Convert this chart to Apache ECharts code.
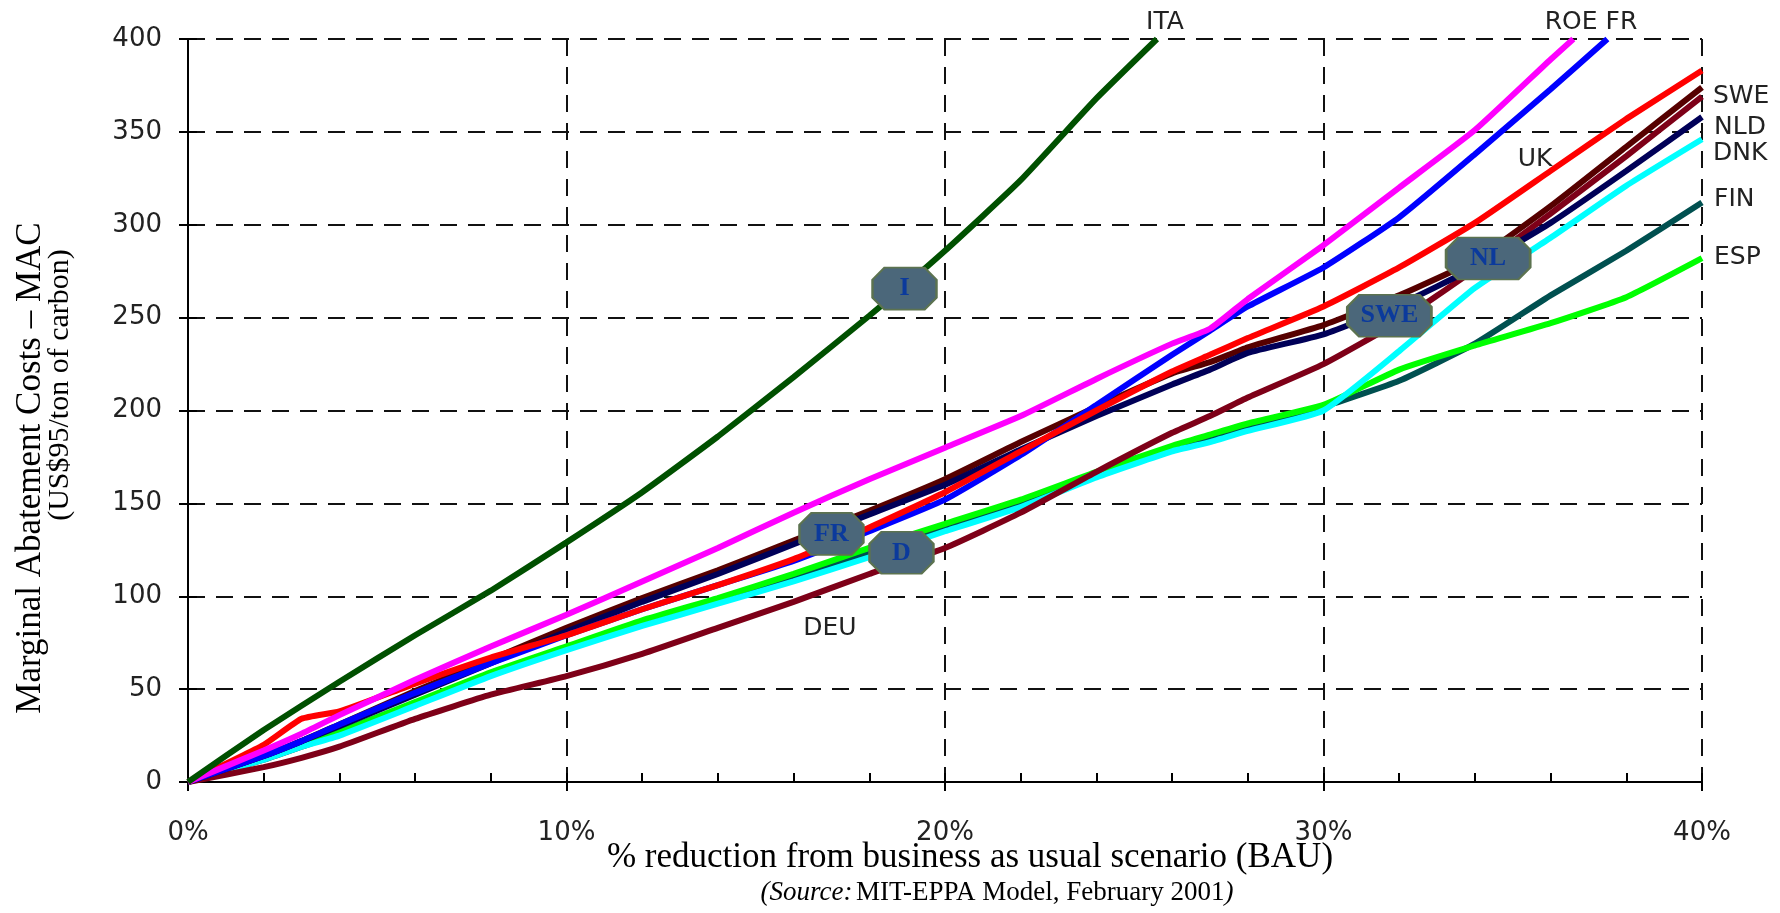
<!DOCTYPE html>
<html>
<head>
<meta charset="utf-8">
<script src="https://cdn.jsdelivr.net/npm/echarts@6/dist/echarts.min.js"></script>
<style>
  html, body { margin: 0; padding: 0; background: #fff; }
  #chart { width: 1780px; height: 913px; }
</style>
</head>
<body>
<div id="chart"></div>
<script>
// % reduction from BAU (x) shared by most regions
const pct = [0, 2, 3, 4, 6, 8, 10, 12, 14, 16, 18, 20, 22, 24, 26, 27, 28, 30, 32, 34, 36, 38, 40];

// regions that leave the top of the chart get their own x values
const itaPct = [0, 2, 4, 6, 8, 10, 12, 14, 16, 18, 20, 22, 24, 25.6];
const itaMac = [0, 28, 54, 79, 103, 129, 156, 186, 218, 251, 286, 324, 368, 400];

const roePct = [0, 2, 3, 4, 6, 8, 10, 12, 14, 16, 18, 20, 22, 24, 26, 27, 28, 30, 32, 34, 36, 36.6];
const roeMac = [0, 17, 26, 36, 55, 73, 90, 108, 126, 145, 163, 180, 197, 217, 236, 244, 260, 289, 320, 351, 389, 400];

const frPct = [0, 2, 3, 4, 6, 8, 10, 12, 14, 16, 18, 20, 22, 24, 26, 27, 28, 30, 32, 34, 36, 37.5];
const frMac = [0, 14, 22, 31, 48, 64, 79, 93, 106, 119, 135, 152, 176, 203, 230, 243, 256, 277, 304, 338, 373, 400];

const ukMac  = [0, 20, 34, 38, 53, 67, 79, 93, 106, 120, 137, 156, 178, 200, 221, 230, 239, 256, 277, 301, 329, 357, 383];
const sweMac = [0, 14, 22, 31, 49, 66, 83, 99, 114, 130, 146, 163, 183, 202, 220, 226, 234, 246, 262, 281, 310, 342, 374];
const nldMac = [0, 14, 22, 30, 47, 64, 81, 97, 112, 128, 144, 160, 179, 197, 214, 222, 231, 241, 257, 277, 301, 329, 358];
const deuMac = [0, 8, 13, 19, 34, 47, 57, 69, 83, 97, 112, 126, 145, 167, 188, 197, 207, 225, 248, 276, 306, 337, 369];
const dnkMac = [0, 12, 19, 25, 41, 57, 71, 84, 96, 108, 121, 135, 148, 164, 178, 183, 189, 200, 232, 266, 293, 321, 346];
const finMac = [0, 12, 19, 26, 42, 58, 72, 85, 97, 110, 123, 137, 150, 165, 179, 185, 191, 202, 216, 236, 262, 286, 312];
const espMac = [0, 13, 20, 27, 43, 59, 73, 87, 99, 112, 126, 139, 152, 167, 181, 187, 193, 203, 222, 235, 247, 261, 282];

// octagon callouts
const calloutNames = ["I", "FR", "D", "SWE", "NL"];
const calloutPct = [18.93, 17.0, 18.85, 31.74, 34.35];
const calloutMac = [265.6, 133.6, 123.4, 251, 281.8];

const octNarrow = "path://M12,0 L52,0 L64,12 L64,30 L52,42 L12,42 L0,30 L0,12 Z";
const octWide = "path://M12,0 L72,0 L84,12 L84,30 L72,42 L12,42 L0,30 L0,12 Z";

const sans = "DejaVu Sans";
const serif = "Liberation Serif";

const chart = echarts.init(document.getElementById("chart"));

function line(name, color, xs, ys) {
  return {
    name: name,
    type: "line",
    data: xs.map((x, i) => [x, ys[i]]),
    symbol: "none",
    smooth: 0.15,
    lineStyle: { color: color, width: 6 },
    itemStyle: { color: color },
    animation: false,
    silent: true,
  };
}

function label(text, x, y, align) {
  return {
    type: "text",
    x: x,
    y: y,
    style: { text: text, font: "25px " + sans, fill: "#222", textAlign: align, textVerticalAlign: "middle" },
  };
}

const axisBlack = { lineStyle: { color: "#000", width: 2 } };
const tickIn = { show: true, inside: true, length: 9, lineStyle: { color: "#000", width: 2 } };
const dashed = { show: true, lineStyle: { type: [17, 11], color: "#111", width: 2 } };

chart.setOption({
  backgroundColor: "#fff",
  animation: false,
  grid: { left: 188, right: 78, top: 39, bottom: 131 },
  xAxis: [
    {
      type: "value",
      min: 0,
      max: 40,
      interval: 10,
      position: "bottom",
      axisLine: axisBlack,
      axisTick: tickIn,
      minorTick: { show: true, splitNumber: 5, length: 9, lineStyle: { color: "#000", width: 2 } },
      axisLabel: { formatter: "{value}%", margin: 38, fontSize: 26, fontFamily: sans, color: "#222" },
      splitLine: dashed,
    },
    {
      type: "value",
      min: 0,
      max: 40,
      interval: 10,
      position: "top",
      axisLine: axisBlack,
      axisTick: tickIn,
      axisLabel: { show: false },
      splitLine: { show: false },
    },
  ],
  yAxis: [
    {
      type: "value",
      min: 0,
      max: 400,
      interval: 50,
      axisLine: { show: true, lineStyle: { color: "#000", width: 2 } },
      axisTick: tickIn,
      axisLabel: { margin: 26, fontSize: 26, fontFamily: sans, color: "#222" },
      splitLine: dashed,
    },
    {
      type: "value",
      min: 0,
      max: 400,
      interval: 50,
      position: "right",
      axisLine: { show: true, lineStyle: { color: "#000", width: 2 } },
      axisTick: tickIn,
      axisLabel: { show: false },
      splitLine: { show: false },
    },
  ],
  series: [
    line("FIN", "#005050", pct, finMac),
    line("ESP", "#00ff00", pct, espMac),
    line("DNK", "#00ffff", pct, dnkMac),
    line("DEU", "#7e0018", pct, deuMac),
    line("SWE", "#560000", pct, sweMac),
    line("NLD", "#000058", pct, nldMac),
    line("FR", "#0000ff", frPct, frMac),
    line("UK", "#ff0000", pct, ukMac),
    line("ROE", "#ff00ff", roePct, roeMac),
    line("ITA", "#005000", itaPct, itaMac),
    {
      type: "scatter",
      data: [],
      z: 10,
      silent: true,
      markPoint: {
        symbolKeepAspect: false,
        itemStyle: { color: "#4b677a", borderColor: "#5c7350", borderWidth: 2 },
        label: {
          show: true,
          formatter: "{b}",
          color: "#0b3a9c",
          fontFamily: serif,
          fontWeight: "bold",
          fontSize: 26,
        },
        data: calloutNames.map((n, i) => ({
          name: n,
          coord: [calloutPct[i], calloutMac[i]],
          symbol: n.length > 1 && n !== "FR" ? octWide : octNarrow,
          symbolSize: n.length > 1 && n !== "FR" ? [84, 42] : [64, 42],
        })),
      },
    },
  ],
  graphic: [
    label("ITA", 1165, 22, "center"),
    label("ROE FR", 1591, 22, "center"),
    label("SWE", 1713, 96, "left"),
    label("NLD", 1714, 127, "left"),
    label("DNK", 1713, 153, "left"),
    label("FIN", 1714, 199, "left"),
    label("ESP", 1714, 257, "left"),
    label("UK", 1535, 159, "center"),
    label("DEU", 830, 628, "center"),
    {
      type: "text", x: 31, y: 468, rotation: Math.PI / 2,
      style: { text: "Marginal Abatement Costs – MAC", font: "35px " + serif, fill: "#000", textAlign: "center", textVerticalAlign: "middle" },
    },
    {
      type: "text", x: 60, y: 385, rotation: Math.PI / 2,
      style: { text: "(US$95/ton of carbon)", font: "30px " + serif, fill: "#000", textAlign: "center", textVerticalAlign: "middle" },
    },
    {
      type: "text", x: 970, y: 858,
      style: { text: "% reduction from business as usual scenario (BAU)", font: "35px " + serif, fill: "#000", textAlign: "center", textVerticalAlign: "middle" },
    },
    {
      type: "text", x: 997, y: 893,
      style: {
        text: "{i|(Source:} {n|MIT-EPPA Model, February 2001}{i|)}",
        textAlign: "center",
        textVerticalAlign: "middle",
        rich: {
          i: { fontFamily: serif, fontStyle: "italic", fontSize: 27, fill: "#000" },
          n: { fontFamily: serif, fontSize: 27, fill: "#000" },
        },
      },
    },
  ],
});
</script>
</body>
</html>
